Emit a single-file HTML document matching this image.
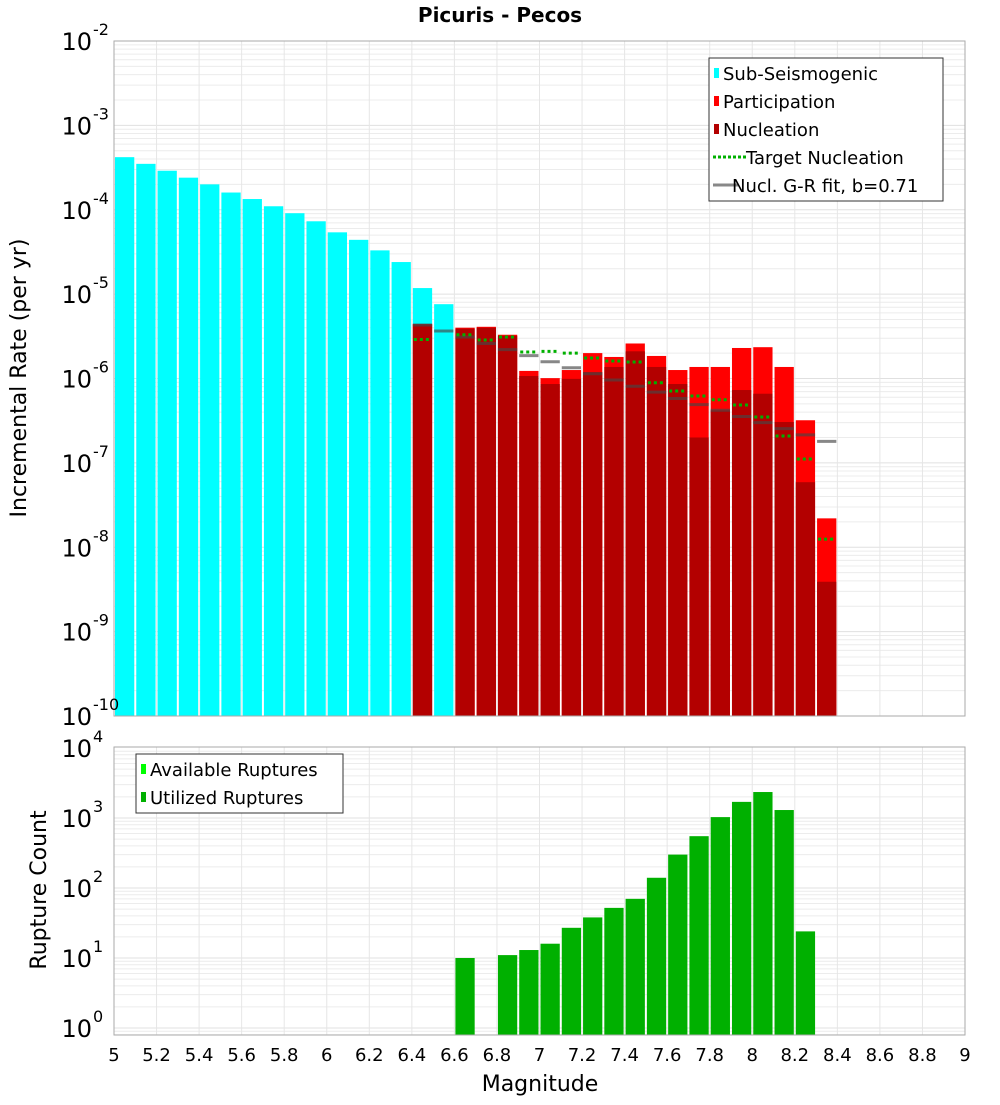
<!DOCTYPE html>
<html><head><meta charset="utf-8"><style>
html,body{margin:0;padding:0;background:#fff;}
svg text{font-family:"DejaVu Sans","Liberation Sans",sans-serif;}
</style></head><body>
<svg id="chart" width="1000" height="1100" xmlns="http://www.w3.org/2000/svg">
<text x="500" y="22" text-anchor="middle" font-size="20" font-weight="bold">Picuris - Pecos</text>
<text transform="translate(26,378) rotate(-90)" text-anchor="middle" font-size="22">Incremental Rate (per yr)</text>
<text transform="translate(46,890) rotate(-90)" text-anchor="middle" font-size="22">Rupture Count</text>
<text x="540" y="1091" text-anchor="middle" font-size="22">Magnitude</text>
<g id="topPlot"></g>
<g id="botPlot"></g>
</svg>
<script>
// ---- data ----
const subMags = [5.0,5.1,5.2,5.3,5.4,5.5,5.6,5.7,5.8,5.9,6.0,6.1,6.2,6.3,6.4,6.5];
const subRates = [4.2e-4,3.5e-4,2.9e-4,2.4e-4,2.0e-4,1.6e-4,1.34e-4,1.1e-4,9.1e-5,7.3e-5,5.4e-5,4.4e-5,3.3e-5,2.4e-5,1.18e-5,7.6e-6];
const supMags = [6.4,6.6,6.7,6.8,6.9,7.0,7.1,7.2,7.3,7.4,7.5,7.6,7.7,7.8,7.9,8.0,8.1,8.2,8.3];
const partRates = [4.4e-6,4.0e-6,4.1e-6,3.3e-6,1.23e-6,1.01e-6,1.26e-6,2.0e-6,1.8e-6,2.6e-6,1.85e-6,1.26e-6,1.37e-6,1.37e-6,2.3e-6,2.35e-6,1.37e-6,3.2e-7,2.2e-8];
const nuclRates = [4.4e-6,3.9e-6,4.0e-6,3.2e-6,1.07e-6,8.6e-7,9.9e-7,1.19e-6,1.37e-6,2.1e-6,1.37e-6,8.6e-7,2.0e-7,4.2e-7,7.3e-7,6.6e-7,3.05e-7,5.9e-8,3.9e-9];
const targetRates = [2.9e-6,3.3e-6,2.86e-6,3.1e-6,2.06e-6,2.1e-6,2.0e-6,1.75e-6,1.61e-6,1.57e-6,8.9e-7,7.1e-7,6.2e-7,5.6e-7,4.85e-7,3.5e-7,2.08e-7,1.11e-7,1.25e-8];
const grMags = [6.4,6.5,6.6,6.7,6.8,6.9,7.0,7.1,7.2,7.3,7.4,7.5,7.6,7.7,7.8,7.9,8.0,8.1,8.2,8.3];
const grRates = [4.3e-6,3.65e-6,3.1e-6,2.6e-6,2.2e-6,1.87e-6,1.58e-6,1.34e-6,1.14e-6,9.6e-7,8.1e-7,6.9e-7,5.8e-7,4.9e-7,4.2e-7,3.55e-7,3.0e-7,2.55e-7,2.15e-7,1.8e-7];
const rupMags = [6.6,6.8,6.9,7.0,7.1,7.2,7.3,7.4,7.5,7.6,7.7,7.8,7.9,8.0,8.1,8.2];
const rupCounts = [10,11,13,16,27,38,52,70,140,300,550,1030,1700,2350,1300,24];
const xTicks = ["5","5.2","5.4","5.6","5.8","6","6.2","6.4","6.6","6.8","7","7.2","7.4","7.6","7.8","8","8.2","8.4","8.6","8.8","9"];
const topExps = [-2,-3,-4,-5,-6,-7,-8,-9,-10];
const botExps = [4,3,2,1,0];

// ---- axes ----
const NS="http://www.w3.org/2000/svg";
const X0=114,X1=965;
const xS = m => X0 + (m-5)/4*(X1-X0);
const T0=41,T1=716;
const yT = v => T0 + (-2-Math.log10(v))*(T1-T0)/8;
const B0=747,B1=1035; const BD=70;
const yB = v => 748 + (4-Math.log10(v))*BD;
function el(parent,tag,attrs){const e=document.createElementNS(NS,tag);for(const k in attrs)e.setAttribute(k,attrs[k]);parent.appendChild(e);return e;}
const gTop=document.getElementById('topPlot'), gBot=document.getElementById('botPlot');

function grid(g,y0,y1,yf,eLo,eHi){
  for(let e=eLo;e<eHi;e++){for(let k=1;k<10;k++){const yy=yf(k*Math.pow(10,e));if(yy<y0||yy>y1)continue;
    const l=el(g,'line',{x1:X0,x2:X1,y1:yy,y2:yy,stroke:k==1?'#e0e0e0':'#ececec','stroke-width':1});
    
    }}
  xTicks.forEach(t=>{const xx=xS(+t);const l=el(g,'line',{x1:xx,x2:xx,y1:y0,y2:y1,stroke:'#e6e6e6','stroke-width':1});
    
    });
}
grid(gTop,T0,T1,yT,-10,-2);
grid(gBot,B0,B1,yB,-1,4);

function bar(g,m,v,fill,yf,base,name){
  const yy=yf(v);const r=el(g,'rect',{x:xS(m)+1,y:yy,width:xS(m+0.1)-xS(m)-2,height:base-yy,fill:fill});
  
  
}
subMags.forEach((m,i)=>bar(gTop,m,subRates[i],'#00ffff',yT,T1,'sub-seismogenic-bar'));
supMags.forEach((m,i)=>bar(gTop,m,partRates[i],'#ff0000',yT,T1,'participation-bar'));
supMags.forEach((m,i)=>bar(gTop,m,nuclRates[i],'#b30000',yT,T1,'nucleation-bar'));
grMags.forEach((m,i)=>{const yy=yT(grRates[i]);const l=el(gTop,'line',{x1:xS(m)+1,x2:xS(m+0.1)-1,y1:yy,y2:yy,stroke:'rgba(70,70,70,0.65)','stroke-width':3});
  
  });
supMags.forEach((m,i)=>{const yy=yT(targetRates[i]);const l=el(gTop,'line',{x1:xS(m)+2,x2:xS(m+0.1)-2,y1:yy,y2:yy,stroke:'#00b000','stroke-width':3,'stroke-dasharray':'3,3'});
  
  });
rupMags.forEach((m,i)=>bar(gBot,m,rupCounts[i],'#00b000',yB,B1,'utilized-ruptures-bar'));

[[gTop,T0,T1],[gBot,B0,B1]].forEach(([g,a,b])=>{const r=el(g,'rect',{x:X0,y:a,width:X1-X0,height:b-a,fill:'none',stroke:'#aaa','stroke-width':1});
  
  });

function ylab(g,e,yy,name){const t=el(g,'text',{x:92,y:yy+9,'text-anchor':'end','font-size':24});t.textContent='10';
  
  
  const s=el(g,'text',{x:93,y:yy-6,'font-size':16});s.textContent=String(e);
  
  }
topExps.forEach(e=>ylab(gTop,e,yT(Math.pow(10,e)),'top-y-tick-label'));
botExps.forEach(e=>ylab(gBot,e,yB(Math.pow(10,e)),'bottom-y-tick-label'));
xTicks.forEach(t=>{const tx=el(gBot,'text',{x:xS(+t),y:1061,'text-anchor':'middle','font-size':18});tx.textContent=t;
  
  });

function legend(g,bx,by,bw,bh,items){
  const r=el(g,'rect',{x:bx,y:by,width:bw,height:bh,fill:'#fff',stroke:'#333','stroke-width':1});
  
  
  items.forEach((it,i)=>{const cy=by+15+i*28;
    let s;
    if(it.type=='bar'){s=el(g,'rect',{x:bx+5,y:cy-5,width:5,height:10,fill:it.c});}
    else {s=el(g,'line',{x1:bx+4,x2:it.dash?bx+39:bx+29,y1:cy,y2:cy,stroke:it.c,'stroke-width':3,'stroke-dasharray':it.dash?'3,2':'none'});}
    
    
    const t=el(g,'text',{x:bx+(it.tx||14),y:cy+7,'font-size':18});t.textContent=it.label;
    
    });
}
legend(gTop,709,58,234,143,[{type:'bar',c:'#00ffff',label:'Sub-Seismogenic'},{type:'bar',c:'#ff0000',label:'Participation'},{type:'bar',c:'#b30000',label:'Nucleation'},{type:'line',c:'#00b000',dash:true,label:'Target Nucleation',tx:37},{type:'line',c:'#888',label:'Nucl. G-R fit, b=0.71',tx:23}]);
legend(gBot,136,754,207,59,[{type:'bar',c:'#00ff00',label:'Available Ruptures'},{type:'bar',c:'#00b000',label:'Utilized Ruptures'}]);
</script>
</body></html>
